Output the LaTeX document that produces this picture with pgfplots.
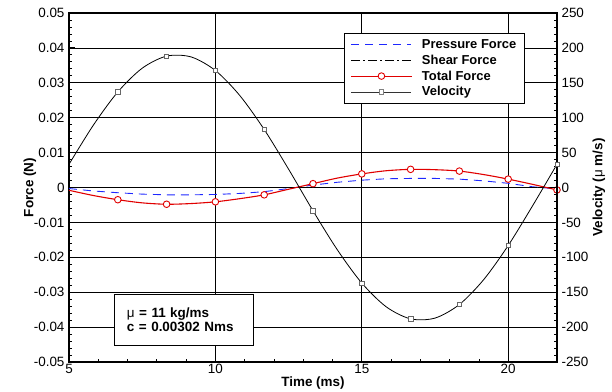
\documentclass[border=0pt]{standalone}
\usepackage{pgfplots}
\pgfplotsset{compat=1.18}
\usepackage{fontspec}
\setmainfont{Liberation Sans}
\definecolor{fred}{RGB}{225,0,0}
\definecolor{pblue}{RGB}{30,40,255}
\begin{document}
\begin{tikzpicture}
\path[use as bounding box] (0,0) rectangle (612bp,392bp);
\begin{axis}[
  at={(69bp,30bp)}, anchor=south west,
  width=488bp, height=349bp, scale only axis,
  xmin=5, xmax=21.667, ymin=-0.05, ymax=0.05,
  clip=false,
  xtick={5,10,15,20}, minor x tick num=4,
  ytick={-0.05,-0.04,-0.03,-0.02,-0.01,0,0.01,0.02,0.03,0.04,0.05},
  minor y tick num=4,
  scaled y ticks=false,
  yticklabel style={/pgf/number format/fixed,/pgf/number format/precision=2},
  /pgf/number format/assume math mode=true,
  xtick pos=bottom, ytick pos=left,
  tick align=inside,
  major tick length=6bp, minor tick length=3bp,
  tick style={black, line width=0.8pt},
  grid=major, major grid style={black, line width=0.7pt},
  axis line style={line width=1.5pt},
  ticklabel style={font=\fontsize{13.5}{15}\selectfont},
  xticklabel style={yshift=1bp},
  yticklabel style={xshift=-1bp},
  xlabel={\textbf{Time (ms)}},
  ylabel={\textbf{Force (N)}},
  every axis x label/.style={at={(axis description cs:0.5,-0.06)}, anchor=center, font=\fontsize{13.5}{15}\selectfont},
  every axis y label/.style={at={(axis description cs:-0.08,0.5)}, rotate=90, anchor=center, font=\fontsize{13.5}{15}\selectfont},
  legend style={at={(0.934,0.943)}, anchor=north east, draw=black, line width=1pt,
    font=\bfseries\fontsize{13}{14}\selectfont, row sep=1bp, inner xsep=6bp, inner ysep=4bp,
    /tikz/every odd column/.append style={column sep=8bp}},
  legend cell align=left,
  legend image code/.code={\draw[mark repeat=2,mark phase=2,#1] plot coordinates {(0bp,0bp) (30bp,0bp) (60bp,0bp)};},
]
\addplot[pblue, line width=0.9pt, dash pattern=on 8bp off 6bp] coordinates {
(5,-0.0003) (5.833,-0.0010) (6.667,-0.0015) (7.5,-0.0019) (8.333,-0.0021) (9.167,-0.0021)
(10,-0.0020) (10.833,-0.0017) (11.667,-0.0012) (12.5,-0.0003) (13.333,0.0007) (14.167,0.0015)
(15,0.0021) (15.833,0.0025) (16.667,0.0026) (17.5,0.0026) (18.333,0.0024) (19.167,0.0019)
(20,0.0012) (20.833,0.0002) (21.667,-0.0004)};
\addlegendentry{Pressure Force}
\addplot[black, line width=0.8pt, dash pattern=on 9bp off 3bp on 2bp off 3bp] coordinates {
(5,0) (21.667,0)};
\addlegendentry{Shear Force}
\addplot[fred, line width=1.1pt, smooth, mark=*, mark size=3.3bp, mark repeat=2, mark phase=3,
  mark options={solid, fill=white, draw=fred, line width=0.9pt}] coordinates {
(5,-0.0008) (5.833,-0.0023) (6.667,-0.0035) (7.5,-0.0044) (8.333,-0.0048) (9.167,-0.0046)
(10,-0.0041) (10.833,-0.0032) (11.667,-0.0021) (12.5,-0.0005) (13.333,0.0011) (14.167,0.0027)
(15,0.0039) (15.833,0.0048) (16.667,0.0052) (17.5,0.0051) (18.333,0.0047) (19.167,0.0037)
(20,0.0024) (20.833,0.0009) (21.667,-0.0007)};
\addlegendentry{Total Force}
\addlegendimage{black!80, line width=0.8pt, mark=square*, mark size=2.2bp, mark options={fill=white, draw=gray, line width=0.6pt}}
\addlegendentry{Velocity}
\node[draw=black, line width=0.8pt, fill=white, align=left, font=\bfseries\fontsize{13.5}{14}\selectfont,
  minimum width=139bp, minimum height=51bp, text width=113bp, inner xsep=13bp]
  at (axis cs:8.91,-0.0380) {{\mdseries μ} = 11 kg/ms\\c = 0.00302 Nms};
\end{axis}
\begin{axis}[
  at={(69bp,30bp)}, anchor=south west,
  width=488bp, height=349bp, scale only axis,
  xmin=5, xmax=21.667, ymin=-250, ymax=250,
  clip=false,
  axis x line=none, axis y line*=right,
  ytick={-250,-200,-150,-100,-50,0,50,100,150,200,250},
  minor y tick num=4,
  /pgf/number format/assume math mode=true,
  tick align=inside,
  major tick length=6bp, minor tick length=3bp,
  tick style={black, line width=0.8pt},
  axis line style={line width=1.5pt},
  ticklabel style={font=\fontsize{13.5}{15}\selectfont},
  yticklabel style={xshift=1bp},
  ylabel={\textbf{Velocity ({\mdseries μ} m/s)}},
  every axis y label/.style={at={(axis description cs:1.086,0.5)}, rotate=90, anchor=center, font=\fontsize{13.5}{15}\selectfont},
]
\addplot[black, line width=0.8pt, smooth, mark=square*, mark size=2.2bp, mark repeat=2, mark phase=3,
  mark options={fill=white, draw=gray!80!black, line width=0.6pt}] coordinates {
(5,33.2) (5.833,89.4) (6.667,136.9) (7.5,170.9) (8.333,188.2) (9.167,187.1)
(10,167.6) (10.833,131.8) (11.667,83.1) (12.5,26.2) (13.333,-33.3) (14.167,-89.4)
(15,-136.9) (15.833,-170.9) (16.667,-188.2) (17.5,-187.1) (18.333,-167.6) (19.167,-131.8)
(20,-83.1) (20.833,-26.2) (21.667,33.3)};
\end{axis}
\end{tikzpicture}
\end{document}
